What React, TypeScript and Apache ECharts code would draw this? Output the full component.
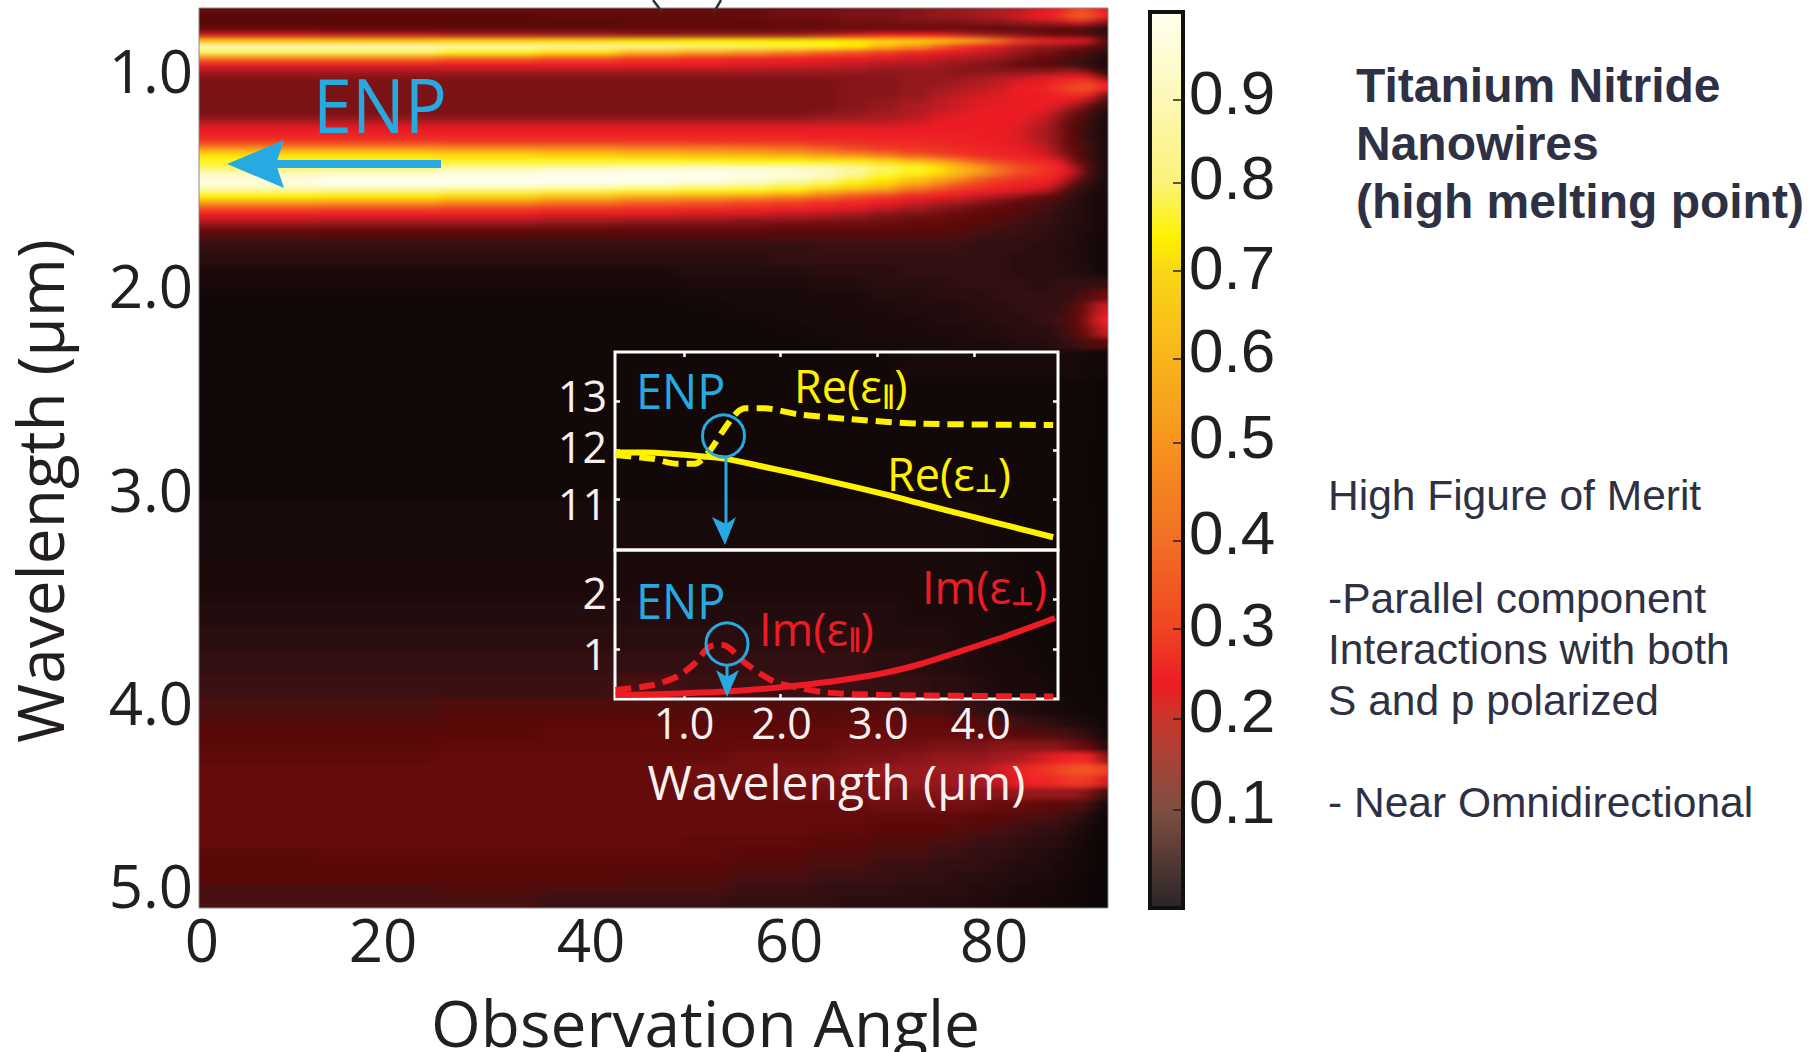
import React, { useEffect, useRef } from "react";
import * as echarts from "echarts";

// ---------- main map: emission, in percent ----------
// widths of the read columns (degrees) and heights of the read rows (1 step = 0.0293 µm)
const angleSpans = [12,12,10,8,6,5,4,4,3,3,3,3,2,2,2,2,2,2,1,1,1,1,1,1];
const rowSpans = [
  1,1,1,1,1,1,1,1,1,1,1,1,1,1,1,1,1,1,1,1,1,1,1,1,1,1,1,1,1,1,1,1,1,1,1,1,1,1,1,
  2,2,2,2,2,2,2,2,2,
  5,10,10,10,7,
  4,4,4,4,3,
  2,2,2,2,2,2,2,2,2,2,2,2,2,2,2,2,
];
const heatRows = [
  [14,14,14,14,14,14, 14,15,15,16,16,17, 18,18,19,20,21,23, 24,27,32,34,30,24],
  [12,12,12,13,13,13, 14,15,15,16,16,17, 18,18,19,20,22,24, 26,30,36,38,34,25],
  [12,12,12,12,13,13, 13,14,14,15,15,16, 16,16,17,17,18,19, 20,20,22,22,20,16],
  [13,13,13,13,13,13, 13,14,14,14,14,14, 14,14,13,13,13,13, 12,11,11,10,9,7],
  [22,21,20,19,18,18, 18,18,20,22,24,24, 24,22,20,18,17,15, 14,14,13,12,11,8],
  [66,66,68,70,72,74, 74,74,74,72,70,68, 66,62,54,42,32,27, 25,24,24,24,20,12],
  [90,90,88,86,84,82, 80,78,76,72,62,48, 38,30,25,23,20,18, 18,17,16,15,13,9],
  [80,80,76,70,62,54, 48,44,38,34,30,26, 24,23,22,20,18,16, 15,13,12,11,9,7],
  [42,42,38,34,30,27, 26,25,24,24,23,22, 21,20,19,18,16,14, 13,11,10,9,7,6],
  [24,24,24,24,24,24, 23,23,22,21,20,20, 19,18,17,16,14,13, 12,10,9,8,7,5],
  [20,20,20,20,20,20, 20,19,19,19,18,18, 18,17,17,17,17,17, 17,18,18,17,12,6],
  [17,17,17,17,17,17, 17,17,17,17,17,18, 18,18,19,20,21,22, 23,23,24,24,22,14],
  [16,16,16,16,16,16, 16,16,16,17,17,18, 18,19,20,21,23,24, 26,28,30,32,30,24],
  [16,16,16,16,16,16, 16,16,16,17,17,18, 19,20,21,22,24,25, 28,31,33,35,33,25],
  [16,16,16,16,16,16, 16,16,16,17,17,18, 20,21,22,23,24,24, 25,26,27,27,24,16],
  [16,16,16,16,16,16, 16,16,16,17,18,19, 21,22,23,23,24,24, 24,24,23,21,17,10],
  [16,16,16,16,16,16, 16,16,16,17,18,20, 21,22,23,24,24,24, 23,21,19,16,12,8],
  [16,16,16,16,16,16, 16,16,17,18,19,20, 22,23,24,24,24,23, 21,18,15,12,9,6],
  [18,18,18,18,18,18, 18,18,19,19,20,21, 23,24,24,24,24,22, 19,16,13,10,8,5],
  [22,22,22,22,22,22, 22,22,22,22,22,23, 24,24,24,24,23,21, 18,15,12,10,7,5],
  [24,24,24,24,24,24, 24,24,24,24,24,24, 24,24,24,24,23,20, 18,15,12,9,7,5],
  [26,26,26,26,26,26, 26,26,25,25,25,25, 25,25,24,24,23,20, 18,15,12,9,7,5],
  [33,33,32,32,31,31, 30,30,29,28,27,27, 26,25,25,24,23,21, 18,15,12,10,8,5],
  [50,50,48,47,46,45, 44,42,38,34,31,29, 28,27,26,25,24,22, 19,16,13,10,8,5],
  [70,70,68,66,64,62, 60,56,50,46,42,36, 32,29,27,26,25,23, 20,17,14,11,8,5],
  [76,76,76,76,76,75, 74,74,72,72,68,62, 52,44,36,31,28,26, 24,22,15,12,9,5],
  [80,82,84,86,88,90, 90,90,88,84,80,76, 70,62,50,40,34,30, 26,24,20,14,9,5],
  [90,92,96,98,99,99, 98,96,92,86,80,76, 70,62,52,42,34,30, 26,24,21,15,9,5],
  [96,99,100,100,100,99, 97,93,88,80,74,66, 58,48,38,32,28,26, 24,22,17,11,8,5],
  [96,98,98,97,94,90, 86,82,78,72,66,54, 44,36,31,27,25,24, 22,18,12,9,7,4],
  [84,84,82,80,78,76, 75,72,64,56,48,38, 32,28,26,24,23,21, 18,12,9,7,6,4],
  [74,72,68,64,58,54, 50,45,40,35,30,26, 24,23,21,19,17,14, 12,10,8,6,5,4],
  [52,50,46,42,38,36, 33,31,28,26,24,22, 20,19,17,15,13,11, 10,8,7,6,5,4],
  [34,33,31,29,28,27, 26,25,24,23,21,19, 17,16,14,13,12,10, 9,8,7,6,5,4],
  [24,24,24,23,23,22, 22,21,20,19,17,16, 15,14,13,12,11,9, 8,7,7,6,5,4],
  [21,20,20,19,18,18, 17,17,16,16,15,14, 14,13,12,11,10,9, 8,7,6,6,5,3],
  [16,16,16,15,15,15, 15,14,14,14,14,13, 13,12,11,10,9,8, 8,7,6,6,5,3],
  [13,12,12,12,12,12, 12,12,12,12,12,12, 12,11,10,9,9,8, 7,7,6,5,5,3],
  [10,10,10,10,10,10, 10,10,10,10,10,10, 10,10,9,9,8,8, 7,7,6,5,4,3],
  [8,8,8,8,8,8, 8,8,9,9,9,9, 9,9,8,8,8,7, 7,6,6,5,4,3],
  [7,7,7,7,7,7, 7,8,8,8,8,8, 8,8,8,8,7,7, 7,6,6,5,4,3],
  [5,5,5,5,5,6, 6,6,7,7,7,8, 8,8,8,8,7,7, 7,7,6,6,5,3],
  [4,4,4,4,4,5, 5,5,6,6,7,7, 7,8,8,8,8,7, 8,8,8,8,9,8],
  [3,3,3,3,3,4, 4,4,5,5,6,6, 7,7,7,8,8,8, 8,8,9,10,13,15],
  [3,3,3,3,3,3, 4,4,4,5,5,6, 6,6,7,7,8,8, 8,9,11,14,19,22],
  [3,3,3,3,3,3, 3,4,4,4,5,5, 6,6,6,7,7,8, 9,10,12,15,21,25],
  [3,3,3,3,3,3, 3,3,4,4,4,5, 5,5,6,6,7,7, 8,9,11,14,18,22],
  [3,3,3,3,3,3, 3,3,3,4,4,4, 4,5,5,5,6,6, 7,8,9,10,11,12],
  [3,3,3,3,3,3, 3,3,3,3,3,4, 4,4,4,4,4,4, 4,4,4,4,3,3],
  [3,3,3,3,3,3, 3,3,3,3,3,3, 3,3,3,3,3,3, 3,2,2,2,2,1],
  [3,3,3,3,3,3, 3,3,3,3,3,3, 3,3,3,3,3,3, 3,2,2,2,1,1],
  [4,4,4,4,4,4, 4,4,4,4,4,4, 4,4,4,3,3,3, 3,2,2,2,2,1],
  [5,5,5,5,5,5, 5,5,5,5,5,5, 4,4,4,4,3,3, 3,2,2,2,1,1],
  [6,6,6,6,6,6, 6,6,6,6,6,5, 5,5,4,4,3,3, 3,2,2,2,1,1],
  [7,7,7,7,7,7, 7,7,7,7,6,6, 6,5,5,4,3,3, 3,2,2,2,1,1],
  [8,8,8,8,8,8, 8,8,8,8,7,7, 6,6,5,5,4,3, 3,2,2,2,1,1],
  [9,9,9,9,10,9, 9,9,9,9,8,8, 7,7,6,5,5,4, 3,3,2,2,2,1],
  [10,10,11,11,11,11, 11,11,11,11,11,10, 10,9,8,7,6,5, 4,4,3,3,2,2],
  [11,11,12,12,12,12, 12,12,12,13,13,13, 13,12,11,10,9,8, 7,6,5,5,4,2],
  [12,12,12,13,13,13, 13,13,14,14,14,14, 14,14,13,13,12,11, 10,10,9,8,7,3],
  [12,12,13,13,13,13, 14,14,14,15,15,15, 16,16,16,17,17,17, 17,16,15,14,12,6],
  [13,13,14,14,14,14, 15,15,15,16,16,17, 18,18,18,19,20,22, 24,25,26,26,24,17],
  [14,14,14,14,14,15, 15,16,16,17,18,18, 19,19,20,22,25,28, 31,33,35,36,35,31],
  [14,14,14,14,14,15, 15,15,16,16,17,18, 18,19,19,21,24,26, 27,28,30,30,28,22],
  [14,14,14,14,14,14, 14,15,15,16,16,16, 17,17,17,17,18,18, 18,18,18,17,15,9],
  [14,14,14,14,14,14, 14,14,14,14,15,15, 15,15,15,14,14,13, 12,12,11,10,8,3],
  [14,14,14,14,14,14, 14,14,14,14,13,13, 13,13,12,12,11,10, 10,9,8,7,4,2],
  [14,14,14,14,14,14, 14,14,13,13,12,12, 12,11,11,10,9,8, 8,7,6,5,3,1],
  [14,14,14,14,14,13, 13,13,12,12,11,11, 10,10,9,9,8,7, 7,6,5,4,2,1],
  [12,13,13,13,13,13, 12,12,11,11,10,10, 9,9,8,8,7,6, 6,5,4,3,2,1],
  [12,12,12,12,12,12, 11,11,10,10,9,9, 8,8,8,7,6,6, 5,4,4,3,2,1],
  [12,12,12,12,11,11, 10,10,9,9,9,8, 8,7,7,6,6,5, 5,4,3,2,1,1],
  [10,10,11,10,10,10, 9,9,8,8,8,7, 7,7,6,6,5,4, 4,3,3,2,1,1],
  [10,10,10,9,9,9, 8,8,8,7,7,7, 6,6,6,5,4,4, 3,3,2,2,1,1],
];

// ---------- axis ticks ----------
const angleLabels = [0, 20, 40, 60, 80];
const angleLabelAt = [0.3, 18.4, 39.2, 59, 79.5];
const wavelengthLabels = ["1.0", "2.0", "3.0", "4.0", "5.0"];
const wavelengthLabelAt = [0.965, 2.015, 3.013, 4.048, 4.941];
const colorbarLabels = ["0.1", "0.2", "0.3", "0.4", "0.5", "0.6", "0.7", "0.8", "0.9"];
const colorbarTickAt = [0.0998, 0.2027, 0.3041, 0.4032, 0.5135, 0.608, 0.7072, 0.8063, 0.8998];
const colorbarLabelAt = [0.1094, 0.2114, 0.3084, 0.4124, 0.5204, 0.6174, 0.7114, 0.8124, 0.9084];

const insetXLabels = ["1.0", "2.0", "3.0", "4.0"];
const insetXTicks = [1, 2, 3, 4];
const insetXLabelAt = [1.0, 2.01, 3.01, 4.07];
const insetTopLabels = ["11", "12", "13"];
const insetTopTicks = [11, 12, 13];
const insetTopLabelAt = [10.9, 12.07, 13.12];
const insetBottomLabels = ["1", "2"];
const insetBottomTicks = [1, 2];
const insetBottomLabelAt = [0.92, 2.14];

// ---------- inset curves: [wavelength µm, permittivity] ----------
const rePerp = [[0.29,11.95],[0.6,11.95],[0.9,11.92],[1.2,11.87],[1.43,11.82],[1.8,11.67],[2.2,11.5],[2.6,11.32],[3.07,11.1],[3.5,10.88],[4.0,10.63],[4.4,10.43],[4.82,10.22]];
const rePar = [[0.29,11.9],[0.68,11.82],[0.93,11.72],[1.11,11.72],[1.26,11.97],[1.4,12.38],[1.54,12.75],[1.64,12.85],[1.83,12.85],[2.18,12.73],[2.72,12.63],[3.43,12.54],[4.82,12.51]];
const imPerp = [[0.29,0.08],[0.8,0.1],[1.43,0.15],[1.8,0.2],[2.18,0.27],[2.6,0.37],[3.07,0.52],[3.45,0.7],[3.79,0.91],[4.32,1.25],[4.84,1.62]];
const imPar = [[0.29,0.18],[0.68,0.28],[0.93,0.45],[1.11,0.71],[1.27,1.05],[1.4,1.08],[1.64,0.71],[1.93,0.35],[2.22,0.21],[2.47,0.13],[3.07,0.08],[4.82,0.05]];

// ---------- colours ----------
const heatStops: [number, string][] = [[0,"#0a0505"],[3,"#130808"],[5,"#1c0a0b"],[7,"#2a0d0f"],[9,"#3a1012"],[10,"#4a0f10"],[12,"#5a0808"],[14,"#660b0b"],[16,"#7b1215"],[19,"#a01b20"],[24,"#ed1c24"],[34,"#f04e23"],[48,"#f7941d"],[62,"#fbb616"],[74,"#fff200"],[85,"#fbf6a0"],[100,"#fffff0"]];
const barStops: [number, string][] = [[0,"#fffff0"],[0.1,"#fdf8b5"],[0.19,"#fbf27a"],[0.25,"#fff200"],[0.29,"#f9d616"],[0.39,"#f9b41b"],[0.48,"#f7941d"],[0.59,"#f26f25"],[0.69,"#ef4423"],[0.75,"#ed1c24"],[0.79,"#c8372d"],[0.89,"#7f4f42"],[1,"#2a2526"]];

const BLUE = "#27aae1";
const YELLOW = "#fff200";
const RED = "#ed1c24";
const INK = "#231f20";
const BODY = "#2e3144";
const LABEL_FONT = "'Open Sans'";

const buildRamp = () => {
  const out: string[] = [];
  for (let v = 0; v <= 100; v++) {
    let k = 0;
    while (k < heatStops.length - 2 && heatStops[k + 1][0] <= v) k++;
    const [a, ca] = heatStops[k];
    const [b, cb] = heatStops[k + 1];
    out.push(echarts.color.lerp((v - a) / (b - a), [ca, cb]) as string);
  }
  return out;
};

// The outer read rows and columns run a little past the plot so the soft edge stays out of sight.
const ROW_PAD = 4;
const COL_PAD = 2;
const buildHeat = () => {
  const data: number[][] = [];
  const rowsN = heatRows.length;
  const colsN = angleSpans.length;
  let y = 0;
  let xMax = 0;
  heatRows.forEach((row, r) => {
    const h = rowSpans[r] + (r === 0 || r === rowsN - 1 ? ROW_PAD : 0);
    for (let j = 0; j < h; j++, y++) {
      let x = 0;
      row.forEach((v, c) => {
        const w = angleSpans[c] + (c === 0 || c === colsN - 1 ? COL_PAD : 0);
        for (let i = 0; i < w; i++, x++) data.push([x, y, v]);
      });
      xMax = x;
    }
  });
  return {
    data,
    cols: Array.from({ length: xMax }, (_, i) => String(i)),
    rows: Array.from({ length: y }, (_, i) => String(i)),
  };
};

const pick = (at: number[], labels: (string | number)[]) => (v: number) => {
  const i = at.indexOf(v);
  return i >= 0 ? String(labels[i]) : "";
};

const sub = (head: string, mark: string, fill: string) => ({
  text: `{a|${head}}{s|${mark}}{a|)}`,
  fill,
  rich: {
    a: { fontFamily: LABEL_FONT, fontSize: 45, fill, lineHeight: 56, verticalAlign: "bottom" },
    s: { fontFamily: "'DejaVu Sans'", fontSize: 25, fontWeight: "bold", fill, lineHeight: 28, verticalAlign: "bottom" },
  },
});

export default function App() {
  const ref = useRef<HTMLDivElement>(null);
  const heatRef = useRef<HTMLDivElement>(null);
  useEffect(() => {
    document.body.style.margin = "0";
    document.body.style.background = "#fff";
    const heat = buildHeat();

    const heatChart = echarts.init(heatRef.current!, undefined, { renderer: "svg" });
    heatChart.setOption({
      animation: false,
      grid: { left: 0, right: 0, top: 0, bottom: 0 },
      xAxis: { type: "category", data: heat.cols, show: false },
      yAxis: { type: "category", data: heat.rows, inverse: true, show: false },
      visualMap: { type: "continuous", show: false, min: 0, max: 100, inRange: { color: buildRamp() } },
      series: [{ type: "heatmap", data: heat.data, progressive: 0, emphasis: { disabled: true }, silent: true }],
    });

    const chart = echarts.init(ref.current!, undefined, { renderer: "svg" });
    const fixedGrid = { outerBoundsMode: "none" as const };
    const plot = { left: 199, top: 8, width: 909, height: 900, ...fixedGrid };
    const cbar = { left: 1148, top: 11, width: 35, height: 898, ...fixedGrid };
    const inTop = { left: 615, top: 352, width: 443, height: 198, ...fixedGrid };
    const inBot = { left: 615, top: 550, width: 443, height: 149, ...fixedGrid };
    const insetAxisStyle = {
      type: "value" as const, z: 6,
      axisLine: { show: false, onZero: false }, splitLine: { show: false },
    };
    const tick = { color: "#fff", width: 2.5 };
    const textEl = (x: number, y: number, text: string, fontSize: number, fill: string, extra: any = {}, styleExtra: any = {}) => ({
      type: "text", x, y, z: 60, ...extra,
      style: { text, fontSize, fill, fontFamily: LABEL_FONT, verticalAlign: "middle", ...styleExtra },
    });
    const bodyEl = (y: number, text: string) => textEl(1328, y, text, 42.5, BODY, {}, { fontFamily: "'Liberation Sans'" });
    const titleEl = (y: number, text: string) => textEl(1356, y, text, 48, BODY, {}, { fontFamily: "'Liberation Sans'", fontWeight: "bold" });
    const ringEl = (cx: number, cy: number, r: number) => ({
      type: "circle", z: 60, shape: { cx, cy, r }, style: { fill: "none", stroke: BLUE, lineWidth: 3 },
    });
    const lineEl = (x1: number, y1: number, x2: number, y2: number, stroke: string, lineWidth: number) => ({
      type: "line", z: 60, shape: { x1, y1, x2, y2 }, style: { stroke, lineWidth },
    });
    const polyEl = (points: number[][]) => ({ type: "polygon", z: 60, shape: { points }, style: { fill: BLUE } });

    chart.setOption({
      animation: false,
      backgroundColor: "transparent",
      grid: [
        { ...plot, z: 1 },
        { ...cbar, z: 10 },
        { ...inTop, show: true, borderColor: "#fff", borderWidth: 3, z: 5, backgroundColor: "transparent" },
        { ...inBot, show: true, borderColor: "#fff", borderWidth: 3, z: 5, backgroundColor: "transparent" },
      ],
      xAxis: [
        {
          type: "value", gridIndex: 0, min: 0, max: 90.9, position: "bottom", z: 3,
          name: "Observation Angle", nameLocation: "middle", nameGap: 82,
          nameTextStyle: { fontFamily: LABEL_FONT, fontSize: 64, color: INK, padding: [0, 0, 0, 104] },
          axisLine: { show: false }, axisTick: { show: false }, splitLine: { show: false },
          axisLabel: {
            customValues: angleLabelAt, margin: 1, formatter: pick(angleLabelAt, angleLabels),
            fontFamily: LABEL_FONT, fontSize: 60, color: INK,
          },
        },
        { type: "value", gridIndex: 1, min: 0, max: 1, show: false },
        {
          ...insetAxisStyle, gridIndex: 2, min: 0.286, max: 4.87, position: "top",
          axisTick: { inside: true, length: 5, lineStyle: tick, customValues: insetXTicks },
          axisLabel: { show: false },
        },
        {
          ...insetAxisStyle, gridIndex: 3, min: 0.286, max: 4.87, position: "bottom",
          axisTick: { inside: true, length: 5, lineStyle: tick, customValues: insetXTicks },
          axisLabel: {
            customValues: insetXLabelAt, margin: 2, formatter: pick(insetXLabelAt, insetXLabels),
            fontFamily: LABEL_FONT, fontSize: 43, color: "#f7f0ee",
          },
          name: "Wavelength (µm)", nameLocation: "middle", nameGap: 58,
          nameTextStyle: { fontFamily: LABEL_FONT, fontSize: 48, color: "#f7f0ee" },
        },
      ],
      yAxis: [
        {
          type: "value", gridIndex: 0, min: 0.665, max: 5.055, inverse: true, position: "left", z: 3,
          name: "Wavelength (µm)", nameLocation: "middle", nameGap: 128, nameRotate: 90,
          nameTextStyle: { fontFamily: LABEL_FONT, fontSize: 64, color: INK, padding: [0, 66, 0, 0] },
          axisLine: { show: false }, axisTick: { show: false }, splitLine: { show: false },
          axisLabel: {
            customValues: wavelengthLabelAt, margin: 6, formatter: pick(wavelengthLabelAt, wavelengthLabels),
            fontFamily: LABEL_FONT, fontSize: 60, color: INK,
          },
        },
        {
          type: "value", gridIndex: 1, min: -0.012, max: 1, position: "right", z: 20,
          axisLine: { show: false, onZero: false }, splitLine: { show: false },
          axisTick: { inside: true, length: 10, lineStyle: { color: INK, width: 1.5 }, customValues: colorbarTickAt },
          axisLabel: {
            customValues: colorbarLabelAt, margin: 6, formatter: pick(colorbarLabelAt, colorbarLabels),
            fontFamily: "'Liberation Sans'", fontSize: 62, color: INK,
          },
        },
        {
          ...insetAxisStyle, gridIndex: 2, min: 9.96, max: 14, position: "left",
          axisTick: { inside: true, length: 5, lineStyle: tick, customValues: insetTopTicks },
          axisLabel: {
            customValues: insetTopLabelAt, margin: 8, formatter: pick(insetTopLabelAt, insetTopLabels),
            fontFamily: LABEL_FONT, fontSize: 43, color: "#f7f0ee",
          },
        },
        {
          ...insetAxisStyle, gridIndex: 2, min: 9.96, max: 14, position: "right",
          axisTick: { inside: true, length: 5, lineStyle: tick, customValues: insetTopTicks },
          axisLabel: { show: false },
        },
        {
          ...insetAxisStyle, gridIndex: 3, min: 0, max: 2.98, position: "left",
          axisTick: { inside: true, length: 5, lineStyle: tick, customValues: insetBottomTicks },
          axisLabel: {
            customValues: insetBottomLabelAt, margin: 8, formatter: pick(insetBottomLabelAt, insetBottomLabels),
            fontFamily: LABEL_FONT, fontSize: 43, color: "#f7f0ee",
          },
        },
        {
          ...insetAxisStyle, gridIndex: 3, min: 0, max: 2.98, position: "right",
          axisTick: { inside: true, length: 5, lineStyle: tick, customValues: insetBottomTicks },
          axisLabel: { show: false },
        },
      ],
      series: [
        { type: "line", name: "Re(ε⊥)", xAxisIndex: 2, yAxisIndex: 2, data: rePerp, smooth: 0.3, showSymbol: false, z: 7, lineStyle: { color: YELLOW, width: 6 } },
        { type: "line", name: "Re(ε∥)", xAxisIndex: 2, yAxisIndex: 2, data: rePar, smooth: 0.3, showSymbol: false, z: 7, lineStyle: { color: YELLOW, width: 6, type: [16, 8] } },
        { type: "line", name: "Im(ε⊥)", xAxisIndex: 3, yAxisIndex: 4, data: imPerp, smooth: 0.3, showSymbol: false, z: 7, lineStyle: { color: RED, width: 6 } },
        { type: "line", name: "Im(ε∥)", xAxisIndex: 3, yAxisIndex: 4, data: imPar, smooth: 0.3, showSymbol: false, z: 7, lineStyle: { color: RED, width: 6, type: [16, 8] } },
      ],
      graphic: [
        {
          type: "rect", z: 8, shape: { x: 1150, y: 12, width: 33, height: 896 },
          style: {
            fill: new echarts.graphic.LinearGradient(0, 0, 0, 1, barStops.map(([offset, color]) => ({ offset, color }))),
            stroke: "#111", lineWidth: 4,
          },
        },
        { type: "rect", z: 9, shape: { x: 199, y: 8, width: 909, height: 900 }, style: { fill: "none", stroke: "#8a8a8a", lineWidth: 1 } },
        lineEl(653, 0, 662, 12, "#333", 2.5),
        lineEl(721, 0, 714, 12, "#333", 2.5),

        textEl(313, 104, "ENP", 75, BLUE, { scaleX: 0.935 }),
        lineEl(272, 164, 441, 164, BLUE, 8),
        polyEl([[227, 164], [284, 140], [276, 164], [284, 188]]),

        textEl(636, 390, "ENP", 49, BLUE, { scaleX: 0.955 }),
        textEl(636, 600, "ENP", 49, BLUE, { scaleX: 0.955 }),
        ringEl(723.5, 436, 21),
        ringEl(727, 644, 21),
        lineEl(726, 457, 726, 525, BLUE, 3),
        polyEl([[712, 517], [726, 524], [736, 517], [725, 545]]),
        lineEl(727, 666, 727, 680, BLUE, 3),
        polyEl([[716, 670], [727, 677], [739, 670], [727, 697]]),

        { type: "text", z: 60, x: 794, y: 380, style: { ...sub("Re(ε", "∥", YELLOW), verticalAlign: "middle" } },
        { type: "text", z: 60, x: 887, y: 468, style: { ...sub("Re(ε", "⊥", YELLOW), verticalAlign: "middle" } },
        { type: "text", z: 60, x: 922, y: 581, style: { ...sub("Im(ε", "⊥", RED), verticalAlign: "middle" } },
        { type: "text", z: 60, x: 759, y: 623, style: { ...sub("Im(ε", "∥", RED), verticalAlign: "middle" } },

        titleEl(85, "Titanium Nitride"),
        titleEl(143, "Nanowires"),
        titleEl(201, "(high melting point)"),
        bodyEl(495, "High Figure of Merit"),
        bodyEl(598, "-Parallel component"),
        bodyEl(649, "Interactions with both"),
        bodyEl(700, "S and p polarized"),
        bodyEl(802, "- Near Omnidirectional"),
      ],
    });
    return () => {
      chart.dispose();
      heatChart.dispose();
    };
  }, []);
  return (
    <div style={{ position: "relative", width: 1820, height: 1052, overflow: "hidden" }}>
      <div ref={ref} style={{ position: "absolute", left: 0, top: 0, width: 1820, height: 1052, zIndex: 2 }} />
      <div style={{ position: "absolute", left: 199, top: 8, width: 909, height: 900, overflow: "hidden", zIndex: 1 }}>
        <div ref={heatRef} style={{ position: "absolute", left: -20, top: -24, width: 950, height: 948, filter: "url(#heatSoft)" }} />
      </div>
      <svg width={0} height={0} style={{ position: "absolute" }}>
        <filter id="heatSoft" colorInterpolationFilters="sRGB">
          <feGaussianBlur stdDeviation="7 2.5" />
        </filter>
      </svg>
    </div>
  );
}
